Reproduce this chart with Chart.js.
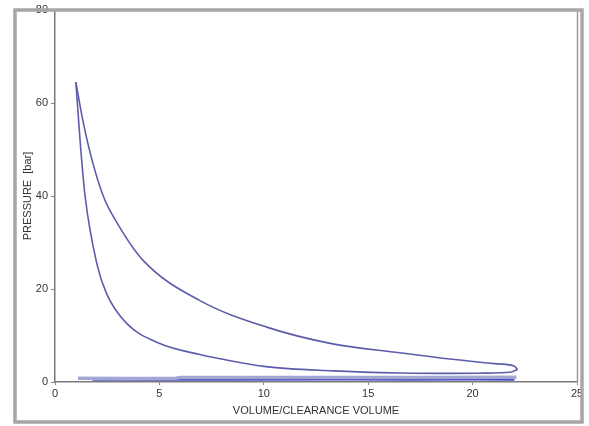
<!DOCTYPE html>
<html>
<head>
<meta charset="utf-8">
<script src="https://cdn.jsdelivr.net/npm/chart.js@4/dist/chart.umd.min.js"></script>
<style>
  html, body { margin: 0; padding: 0; background: #fff; }
  #pvChart { display: block; }
</style>
</head>
<body>
<canvas id="pvChart" width="589" height="426"></canvas>
<script>
// Expansion stroke: peak pressure down to bottom dead centre
const expansionV = [1.0, 1.3, 1.7, 2.31, 3.0, 4.23, 6.94, 10.14, 13.3, 16.5, 18.8, 21.2, 22.0, 22.15];
const expansionP = [64.5, 57.0, 49.0, 40.0, 34.0, 26.1, 17.5, 11.8, 8.2, 6.3, 5.0, 3.9, 3.4, 2.7];

// Compression stroke, listed by volume from the peak out to bottom dead centre
const compressionV = [1.0, 1.2, 1.44, 2.0, 2.47, 3.43, 5.02, 6.94, 7.9, 10.1, 13.3, 16.5, 19.0, 20.5, 21.8, 22.15];
const compressionP = [64.5, 52.0, 40.0, 25.5, 19.0, 12.6, 8.3, 5.9, 5.0, 3.3, 2.4, 1.95, 1.85, 1.9, 2.1, 2.7];

// Gas exchange loop near atmospheric pressure
const exhaustV = [22.1, 18.0, 12.0, 6.0, 5.8, 3.2, 1.1];
const exhaustP = [1.0, 0.95, 0.95, 0.95, 0.8, 0.75, 0.8];
const intakeV = [1.8, 3.2, 8.0, 14.0, 17.0, 20.0, 22.0];
const intakeP = [0.5, 0.5, 0.5, 0.55, 0.5, 0.55, 0.5];

const xTicks = [0, 5, 10, 15, 20, 25];
const yTicks = [0, 20, 40, 60, 80];

const toPoints = (xs, ys) => xs.map((x, i) => ({ x: x, y: ys[i] }));

const loopColor = "#5c5caa";

// outer frame and right edge of the plot box
const framePlugin = {
  id: "frame",
  afterDraw(chart) {
    const ctx = chart.ctx;
    const area = chart.chartArea;
    ctx.save();
    ctx.strokeStyle = "#9a9a9a";
    ctx.lineWidth = 1.5;
    ctx.beginPath();
    ctx.moveTo(area.right + 0.5, area.top);
    ctx.lineTo(area.right + 0.5, area.bottom);
    ctx.stroke();
    ctx.strokeStyle = "#a6a6a6";
    ctx.lineWidth = 3.5;
    ctx.strokeRect(15, 10, 567, 412);
    ctx.restore();
  },
};

const ctx = document.getElementById("pvChart").getContext("2d");
const pvChart = new Chart(ctx, {
  type: "scatter",
  data: {
    datasets: [
      {
        label: "Exhaust",
        data: toPoints(exhaustV, exhaustP),
        showLine: true,
        borderColor: "#a2a6d2",
        borderWidth: 3.5,
        pointRadius: 0,
        tension: 0,
      },
      {
        label: "Intake",
        data: toPoints(intakeV, intakeP),
        showLine: true,
        borderColor: "#4646c4",
        borderWidth: 2,
        pointRadius: 0,
        tension: 0,
      },
      {
        label: "Expansion",
        data: toPoints(expansionV, expansionP),
        showLine: true,
        borderColor: loopColor,
        borderWidth: 1.6,
        pointRadius: 0,
        cubicInterpolationMode: "monotone",
      },
      {
        label: "Compression",
        data: toPoints(compressionV, compressionP),
        showLine: true,
        borderColor: loopColor,
        borderWidth: 1.6,
        pointRadius: 0,
        cubicInterpolationMode: "monotone",
      },
    ],
  },
  options: {
    responsive: false,
    animation: false,
    layout: { padding: { left: 0, top: 10, right: 12, bottom: 0 } },
    plugins: {
      legend: { display: false },
      tooltip: { enabled: false },
    },
    scales: {
      x: {
        type: "linear",
        min: 0,
        max: 25,
        afterBuildTicks: (scale) => {
          scale.ticks = xTicks.map((v) => ({ value: v }));
        },
        afterFit: (scale) => {
          scale.height = 44;
        },
        ticks: {
          padding: 2,
          color: "#333",
          font: { family: "Liberation Sans", size: 11 },
        },
        grid: {
          drawOnChartArea: false,
          tickLength: 3,
          tickColor: "#888",
        },
        border: { color: "#7a7a7a", width: 1.5 },
        title: {
          display: true,
          text: "VOLUME/CLEARANCE VOLUME",
          color: "#333",
          font: { family: "Liberation Sans", size: 11 },
          padding: { top: 0, bottom: 8 },
        },
      },
      y: {
        type: "linear",
        min: 0,
        max: 80,
        afterBuildTicks: (scale) => {
          scale.ticks = yTicks.map((v) => ({ value: v }));
        },
        afterFit: (scale) => {
          scale.width = 55;
        },
        ticks: {
          padding: 3,
          color: "#333",
          font: { family: "Liberation Sans", size: 11 },
        },
        grid: {
          drawOnChartArea: false,
          tickLength: 4,
          tickColor: "#888",
        },
        border: { color: "#7a7a7a", width: 1.5 },
        title: {
          display: true,
          text: "PRESSURE  [bar]",
          color: "#333",
          font: { family: "Liberation Sans", size: 11 },
          padding: { top: 21, bottom: 0 },
        },
      },
    },
  },
  plugins: [framePlugin],
});
</script>
</body>
</html>
